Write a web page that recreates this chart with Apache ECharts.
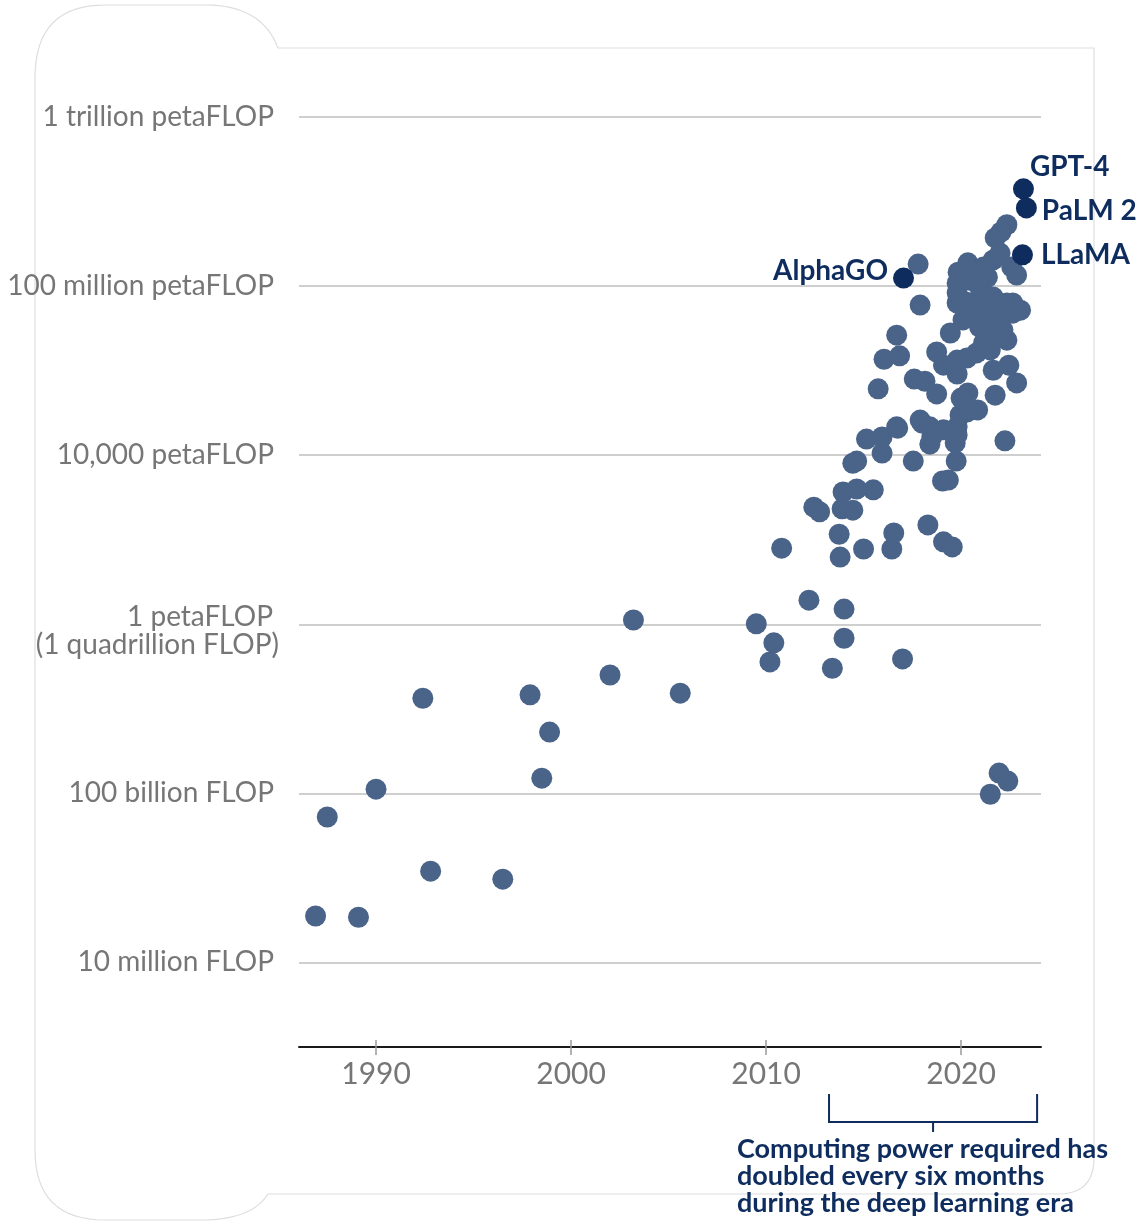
<!DOCTYPE html>
<html>
<head>
<meta charset="utf-8">
<script src="https://cdn.jsdelivr.net/npm/echarts@6/dist/echarts.min.js"></script>
<style>
  html, body { margin: 0; padding: 0; background: #ffffff; }
  #chart { width: 1140px; height: 1222px; }
</style>
</head>
<body>
<div id="chart"></div>
<script>
// Training compute of notable AI systems, by publication year.
// Compute is stored as log10 of petaFLOP (0 = 1 petaFLOP = 1e15 FLOP).
const years = [
  1986.9, 1989.1, 1987.5, 1990.0, 1992.4, 1992.8, 1996.5, 1997.9, 1998.9, 1998.5,
  2002.0, 2003.2, 2005.6, 2009.5, 2010.4, 2010.2, 2012.2, 2014.0, 2014.0, 2013.4,
  2017.0, 2010.8, 2021.95, 2022.4, 2021.5,
  2013.8, 2013.75, 2015.0, 2016.45, 2016.55, 2018.3, 2019.1, 2019.55, 2012.45, 2012.75,
  2013.9, 2014.45, 2013.95, 2014.65, 2015.5, 2014.45, 2014.65, 2015.15, 2015.95, 2015.95,
  2016.75, 2017.55, 2019.05, 2019.35, 2019.75, 2018.4, 2018.0, 2019.1, 2019.8, 2019.7,
  2018.5,
  2017.9, 2016.7, 2016.05, 2016.85, 2015.75, 2017.6, 2018.15, 2018.75, 2016.7, 2017.9,
  2018.4, 2019.8, 2022.25, 2020.3, 2020.85, 2019.95, 2020.35, 2021.75, 2022.85, 2022.45,
  2021.65, 2019.8, 2019.1, 2018.75, 2019.45, 2019.8, 2020.3, 2020.8, 2021.15, 2021.5,
  2022.35, 2021.9, 2020.1, 2020.8, 2021.35, 2022.0, 2022.65, 2023.05, 2019.8, 2020.8,
  2022.35,
  2017.8, 2022.35, 2022.05, 2021.75, 2021.65, 2022.0, 2022.85, 2022.6, 2020.35, 2019.85,
  2021.15, 2019.8, 2020.45, 2021.35, 2020.95, 2019.8, 2020.3, 2021.65, 2022.65, 2021.5,
  2020.6, 2021.85, 2020.95, 2022.15, 2020.0
];
const compute = [
  -6.90, -6.93, -4.56, -3.90, -1.75, -5.84, -6.03, -1.67, -2.55, -3.64,
  -1.20, 0.10, -1.63, 0.01, -0.44, -0.89, 0.57, 0.36, -0.33, -1.04,
  -0.82, 1.80, -3.52, -3.71, -4.02,
  1.59, 2.13, 1.78, 1.78, 2.16, 2.35, 1.95, 1.83, 2.77, 2.66,
  2.73, 2.70, 3.13, 3.20, 3.18, 3.81, 3.86, 4.38, 4.43, 4.05,
  4.64, 3.86, 3.39, 3.41, 3.86, 4.26, 4.76, 4.60, 4.67, 4.29,
  4.43,
  7.55, 6.84, 6.27, 6.35, 5.57, 5.80, 5.75, 5.45, 4.67, 4.83,
  4.67, 4.48, 4.34, 5.02, 5.07, 4.95, 5.47, 5.42, 5.71, 6.13,
  6.01, 5.92, 6.13, 6.44, 6.89, 6.25, 6.30, 6.42, 6.65, 6.49,
  6.72, 6.89, 7.20, 7.20, 7.03, 7.20, 7.36, 7.43, 7.60, 7.60,
  7.60,
  8.52, 9.45, 9.28, 9.14, 8.62, 8.78, 8.26, 8.45, 8.55, 8.33,
  8.45, 8.07, 8.14, 8.21, 7.98, 7.84, 7.62, 7.74, 7.60, 7.36,
  7.27, 7.13, 7.03, 6.96, 5.35
];

// Named systems drawn in the darker colour
const notableNames = ['GPT-4', 'PaLM 2', 'LLaMA', 'AlphaGO'];
const notableYears = [2023.2, 2023.35, 2023.15, 2017.05];
const notableCompute = [10.30, 9.85, 8.74, 8.19];

// Axis ticks
const xTickValues = [1990, 2000, 2010, 2020];
const yTickValues = [-8, -4, 0, 4, 8, 12];
const yTickLabels = [
  '10 million FLOP',
  '100 billion FLOP',
  '1 petaFLOP\n(1 quadrillion FLOP)',
  '10,000 petaFLOP',
  '100 million petaFLOP',
  '1 trillion petaFLOP'
];

const FONT = 'Lato, "Noto Sans", sans-serif';
const DOT = '#4a6388';
const NAVY = '#0e2d5e';
const X_MIN = 1986.05, X_MAX = 2024.1;

const labelPlacement = {
  'GPT-4':   { position: 'right', offset: [-9, -22] },
  'PaLM 2':  { position: 'right', offset: [0, 3] },
  'LLaMA':   { position: 'right', offset: [3, 0] },
  'AlphaGO': { position: 'left',  offset: [0, -7] }
};

const chart = echarts.init(document.getElementById('chart'), null, { renderer: 'canvas' });

// y tick label: single lines sit on the gridline; the two-line label hangs a little lower
function yLabel(v) {
  const i = yTickValues.indexOf(Math.round(v));
  if (i < 0) return '';
  const lines = yTickLabels[i].split('\n');
  if (lines.length === 1) return '{n|' + lines[0] + '}';
  return '{t1|' + lines[0] + '}\n{t2|' + lines[1] + '}';
}

const option = {
  backgroundColor: '#ffffff',
  animation: false,
  grid: { left: 299, right: 99, top: 117, bottom: 175, containLabel: false },
  xAxis: [
    {
      type: 'value', min: X_MIN, max: X_MAX, position: 'bottom',
      axisLine: { show: true, onZero: false, lineStyle: { color: '#1a1a1a', width: 2 } },
      axisTick: { show: true, customValues: xTickValues, length: 8, lineStyle: { color: '#9a9a9a', width: 1.5 } },
      axisLabel: {
        customValues: xTickValues, color: '#767676', fontSize: 30, fontFamily: FONT, margin: 12,
        formatter: function (v) { return String(Math.round(v)); }
      },
      splitLine: { show: false }
    },
    {
      type: 'value', min: X_MIN, max: X_MAX, position: 'bottom', offset: 0,
      axisLine: { show: false, onZero: false },
      axisTick: { show: true, inside: true, customValues: xTickValues, length: 7, lineStyle: { color: '#9a9a9a', width: 1.5 } },
      axisLabel: { show: false },
      splitLine: { show: false }
    }
  ],
  yAxis: {
    type: 'value', min: -10, max: 12,
    axisLine: { show: false },
    axisTick: { show: false, customValues: yTickValues },
    axisLabel: {
      customValues: yTickValues,
      color: '#767676', fontSize: 28, fontFamily: FONT, margin: 20,
      align: 'right',
      formatter: yLabel,
      rich: {
        n:  { fontSize: 28, fontFamily: FONT, color: '#767676', padding: [0, 5, 0, 0] },
        t1: { fontSize: 28, fontFamily: FONT, color: '#767676', lineHeight: 42, verticalAlign: 'bottom', padding: [0, 6, 0, 0] },
        t2: { fontSize: 28, fontFamily: FONT, color: '#767676', lineHeight: 28 }
      }
    },
    splitLine: { show: true, lineStyle: { color: '#cfcfcf', width: 2 } }
  },
  series: [
    {
      type: 'scatter',
      xAxisIndex: 0,
      symbolSize: 21,
      itemStyle: { color: DOT, opacity: 1 },
      data: years.map((y, i) => [y, compute[i]]),
      z: 3
    },
    {
      type: 'scatter',
      xAxisIndex: 0,
      symbolSize: 21,
      itemStyle: { color: NAVY, opacity: 1 },
      data: notableNames.map((n, i) => ({
        name: n,
        value: [notableYears[i], notableCompute[i]],
        label: {
          show: true,
          formatter: n,
          position: labelPlacement[n].position,
          offset: labelPlacement[n].offset,
          distance: 5,
          color: NAVY, fontSize: 28, fontWeight: 'bold', fontFamily: FONT
        }
      })),
      z: 4
    }
  ]
};

chart.setOption(option);

// Outline of the white card behind the chart, traced as a polygon
function quad(p0, c, p1, n) {
  const pts = [];
  for (let k = 0; k <= n; k++) {
    const t = k / n, u = 1 - t;
    pts.push([u * u * p0[0] + 2 * u * t * c[0] + t * t * p1[0],
              u * u * p0[1] + 2 * u * t * c[1] + t * t * p1[1]]);
  }
  return pts;
}
const cardPts = [].concat(
  quad([35, 78], [35, 5], [105, 5], 16),
  quad([205, 5], [262, 5], [278, 48], 16),
  [[1094, 48]],
  quad([1094, 1158], [1094, 1194], [1058, 1194], 12),
  quad([268, 1194], [252, 1220], [200, 1220], 12),
  quad([105, 1220], [35, 1220], [35, 1150], 16)
);

// Bracket over the deep-learning era
const bx0 = chart.convertToPixel({ xAxisIndex: 0 }, 2013.23);
const bx1 = chart.convertToPixel({ xAxisIndex: 0 }, 2023.9);
const bmid = (bx0 + bx1) / 2;
const bTop = 1094, bBot = 1122, bTick = 1132;

chart.setOption({
  graphic: [
    {
      type: 'polygon', z: -10, silent: true,
      shape: { points: cardPts },
      style: { fill: '#ffffff', stroke: '#dedede', lineWidth: 1.2 }
    },
    {
      type: 'polyline', z: 5, silent: true,
      shape: { points: [[bx0, bTop], [bx0, bBot], [bx1, bBot], [bx1, bTop]] },
      style: { stroke: NAVY, lineWidth: 2, fill: null }
    },
    {
      type: 'line', z: 5, silent: true,
      shape: { x1: bmid, y1: bBot, x2: bmid, y2: bTick },
      style: { stroke: NAVY, lineWidth: 2 }
    },
    {
      type: 'text', z: 5, silent: true,
      x: 737, y: 1136,
      style: {
        text: 'Computing power required has\ndoubled every six months\nduring the deep learning era',
        fill: NAVY, fontSize: 27, fontWeight: 'bold', fontFamily: FONT,
        lineHeight: 27, align: 'left', verticalAlign: 'top'
      }
    }
  ]
});
</script>
</body>
</html>
